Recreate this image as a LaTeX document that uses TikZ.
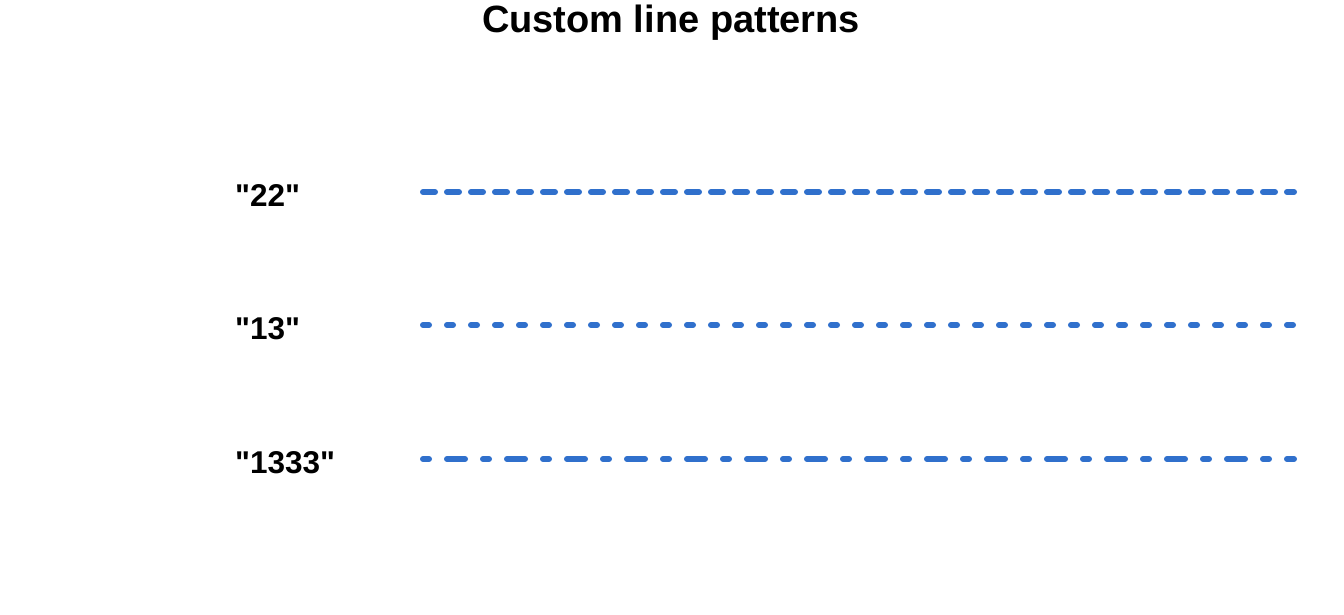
\documentclass[tikz,border=0pt]{standalone}
\usepackage{fontspec}
\setmainfont[Ligatures=NoCommon,Mapping=]{Liberation Sans}
\definecolor{lineblue}{RGB}{48,112,204}
\newcommand{\dq}{\symbol{34}}
\begin{document}
\begin{tikzpicture}[x=1pt,y=-1pt,
  lbl/.style={anchor=base west,inner sep=0pt,font=\fontsize{31.5}{36}\selectfont\bfseries},
  pat/.style={draw=lineblue,line width=6pt,line cap=round}]
\useasboundingbox (0,0) rectangle (1344,614);
\node[anchor=base,inner sep=0pt,font=\fontsize{38}{44}\selectfont\bfseries] (title) at (671,32) {Custom line patterns};
\node[lbl] (l22) at (235,206) {\dq22\dq};
\node[lbl] (l13) at (235,339) {\dq13\dq};
\node[lbl] (l1333) at (235,473) {\dq1333\dq};
\coordinate (a1) at (423,192); \coordinate (b1) at (1294,192);
\coordinate (a2) at (423,325); \coordinate (b2) at (1294,325);
\coordinate (a3) at (423,459); \coordinate (b3) at (1294,459);
\draw[pat,dash pattern=on 12pt off 12pt] (a1) -- (b1);
\draw[pat,dash pattern=on 6pt off 18pt] (a2) -- (b2);
\draw[pat,dash pattern=on 6pt off 18pt on 18pt off 18pt] (a3) -- (b3);
\end{tikzpicture}
\end{document}
